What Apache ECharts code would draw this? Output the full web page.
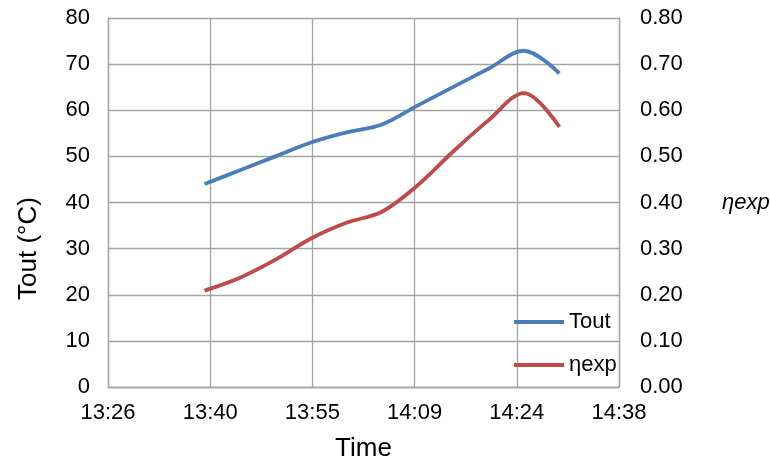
<!DOCTYPE html>
<html>
<head>
<meta charset="utf-8">
<script src="https://cdn.jsdelivr.net/npm/echarts@6/dist/echarts.min.js"></script>
<style>html,body{margin:0;padding:0;background:#fff;}#c{width:770px;height:463px;}</style>
</head>
<body>
<div id="c"></div>
<script>
// Data
var times = ["13:40","13:45","13:50","13:55","14:00","14:05","14:10","14:15","14:20","14:25","14:30"];
var tout  = [44.0, 47.0, 50.0, 53.0, 55.2, 56.9, 61.0, 65.0, 69.0, 72.9, 68.0];
var eta   = [0.209, 0.237, 0.276, 0.322, 0.356, 0.380, 0.437, 0.510, 0.578, 0.637, 0.564];
var xTickLabels = ["13:26","13:40","13:55","14:09","14:24","14:38"];
var seriesNames = ["Tout", "ηexp"];

function toMin(s){ var p = s.split(":"); return (+p[0])*60 + (+p[1]); }
function fmt(m){ var mm = Math.floor(m + 1e-6); var h = Math.floor(mm/60), r = mm % 60; return h + ":" + (r<10?"0":"") + r; }

var xMin = 806.4, xMax = 878.4, xInt = 14.4;
var font = "Liberation Sans, Arial, sans-serif";
var grid = '#a3a3a3';

var chart = echarts.init(document.getElementById('c'));
chart.setOption({
  animation: false,
  backgroundColor: '#fff',
  grid: { left: 108, right: 151, top: 18, bottom: 76, containLabel: false, outerBoundsMode: 'none' },
  legend: {
    orient: 'vertical', left: 509, top: 305,
    icon: 'rect', itemWidth: 50, itemHeight: 4, itemGap: 19,
    textStyle: { fontFamily: font, fontSize: 22, color: '#000', lineHeight: 24 },
    data: seriesNames
  },
  xAxis: {
    type: 'value', min: xMin, max: xMax, interval: xInt,
    name: 'Time', nameLocation: 'middle', nameGap: 49,
    nameTextStyle: { fontFamily: font, fontSize: 26, color: '#000' },
    axisLine: { show: true, lineStyle: { color: grid, width: 1.3 } },
    axisTick: { show: false },
    axisLabel: { fontFamily: font, fontSize: 22, color: '#000', margin: 15,
      formatter: function(v){ var i = Math.round((v - xMin)/xInt); return xTickLabels[i] !== undefined ? xTickLabels[i] : fmt(v); } },
    splitLine: { show: true, lineStyle: { color: grid, width: 1.3 } }
  },
  yAxis: [
    {
      type: 'value', min: 0, max: 80, interval: 10, position: 'left',
      name: 'Tout (°C)', nameLocation: 'middle', nameGap: 66,
      nameTextStyle: { fontFamily: font, fontSize: 26, color: '#000', padding: [0, 92, 0, 0] },
      axisLine: { show: true, lineStyle: { color: grid, width: 1.3 } },
      axisTick: { show: false },
      axisLabel: { fontFamily: font, fontSize: 22, color: '#000', margin: 18 },
      splitLine: { show: true, lineStyle: { color: grid, width: 1.3 } }
    },
    {
      type: 'value', min: 0, max: 0.8, interval: 0.1, position: 'right',
      name: 'ηexp', nameLocation: 'middle', nameRotate: 0, nameGap: 103,
      nameTextStyle: { fontFamily: font, fontSize: 22, fontStyle: 'italic', color: '#000' },
      axisLine: { show: true, lineStyle: { color: grid, width: 1.3 } },
      axisTick: { show: false },
      axisLabel: { fontFamily: font, fontSize: 22, color: '#000', margin: 21,
        formatter: function(v){ return v.toFixed(2); } },
      splitLine: { show: false }
    }
  ],
  series: [
    {
      name: seriesNames[0], type: 'line', yAxisIndex: 0, smooth: 0.35,
      showSymbol: false, symbol: 'none',
      lineStyle: { color: '#4A7EBB', width: 3.8 }, itemStyle: { color: '#4A7EBB' },
      data: times.map(function(t, i){ return [toMin(t), tout[i]]; })
    },
    {
      name: seriesNames[1], type: 'line', yAxisIndex: 1, smooth: 0.35,
      showSymbol: false, symbol: 'none',
      lineStyle: { color: '#BE4B48', width: 3.8 }, itemStyle: { color: '#BE4B48' },
      data: times.map(function(t, i){ return [toMin(t), eta[i]]; })
    }
  ]
});
</script>
</body>
</html>
